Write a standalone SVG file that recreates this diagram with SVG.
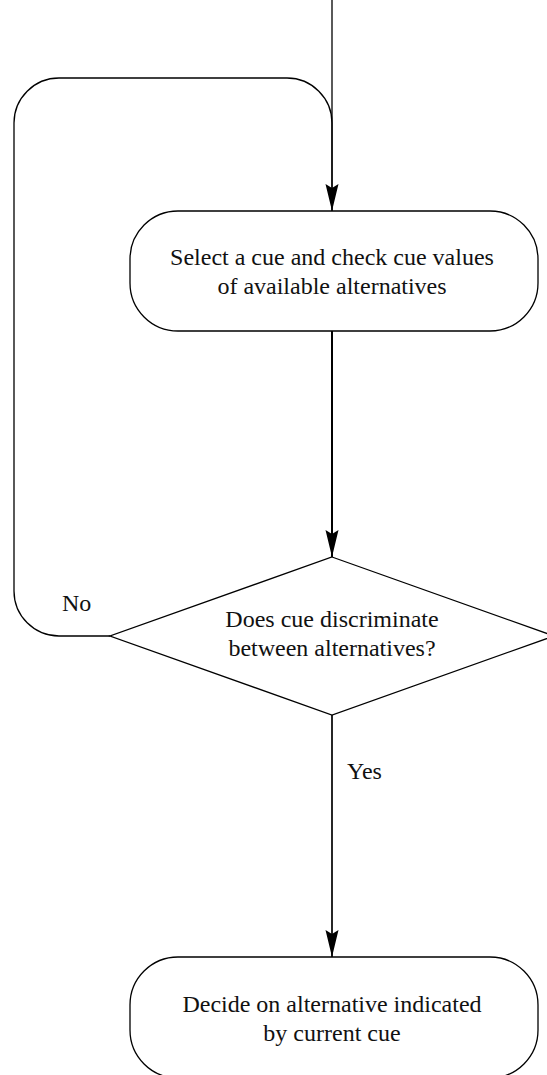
<svg xmlns="http://www.w3.org/2000/svg" width="547" height="1075" viewBox="0 0 547 1075">
<style>
.shape{fill:#fff;stroke:#000;stroke-width:1.3}
.line{fill:none;stroke:#000;stroke-width:1.3}
.thick{stroke-width:2}
text{font-family:"Liberation Serif",serif;font-size:24px;fill:#111;text-anchor:middle}
.lbl{text-anchor:start}
</style>
<defs>
<marker id="arr" markerUnits="userSpaceOnUse" markerWidth="28" markerHeight="14" refX="27" refY="7" orient="auto" viewBox="0 0 28 14">
<path d="M0,0.5 L27,7 L0,13.5 L4,7 Z" fill="#000"/>
</marker>
</defs>
<rect width="547" height="1075" fill="#fff"/>
<g id="connectors">
<path class="line" d="M332,0 L332,211"/>
<path class="line" d="M110,636 L59,636 A45,45 0 0 1 14,591 L14,123 A45,45 0 0 1 59,78 L287,78 A45,45 0 0 1 332,123 L332,211" marker-end="url(#arr)"/>
<path class="line thick" d="M332,331 L332,557" marker-end="url(#arr)"/>
<path class="line" style="stroke-width:1.7" d="M332,715 L332,957" marker-end="url(#arr)"/>
<text class="lbl" x="62" y="611">No</text>
<text class="lbl" x="347" y="779">Yes</text>
</g>
<g id="select">
<rect class="shape" x="130" y="211" width="408" height="120" rx="48" ry="48"/>
<text x="332" y="265">Select a cue and check cue values</text>
<text x="332" y="294">of available alternatives</text>
</g>
<g id="discriminate">
<polygon class="shape" points="332,557 554,636 332,715 110,636"/>
<text x="332" y="627">Does cue discriminate</text>
<text x="332" y="656">between alternatives?</text>
</g>
<g id="decide">
<rect class="shape" x="130" y="957" width="408" height="121" rx="48" ry="48"/>
<text x="332" y="1012">Decide on alternative indicated</text>
<text x="332" y="1041">by current cue</text>
</g>
</svg>
